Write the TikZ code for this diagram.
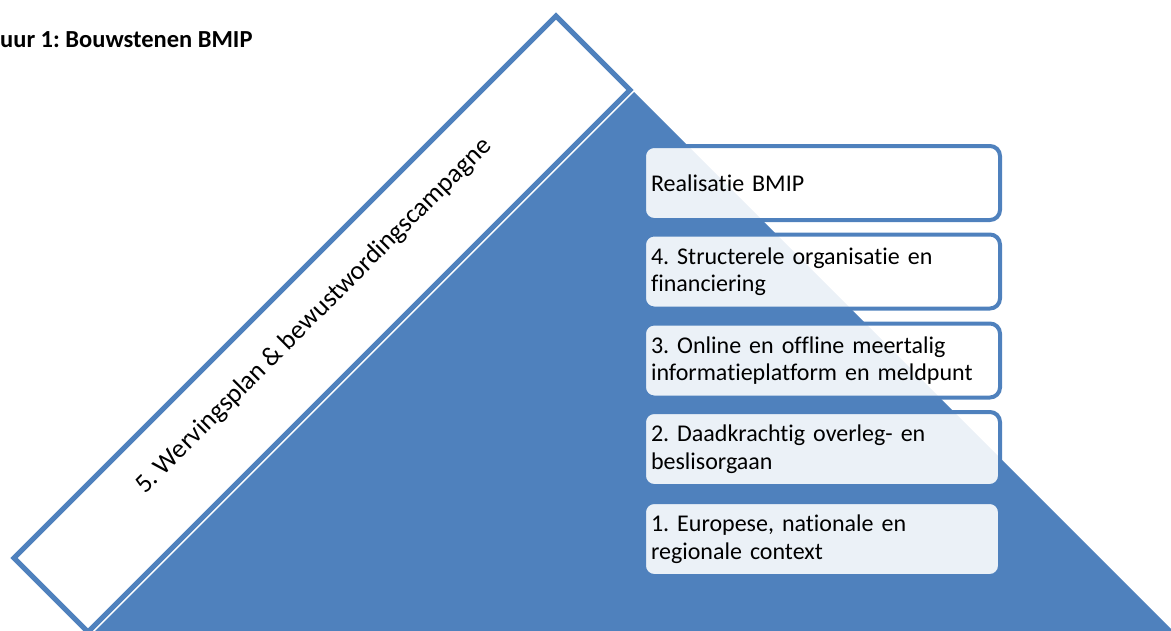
\documentclass[tikz,border=0pt]{standalone}
\usepackage{fontspec}
\setmainfont{Carlito}[Ligatures=NoCommon]
\frenchspacing
\definecolor{accent}{HTML}{4F81BD}
\newcommand\boxtextfont{\fontsize{24}{27.5}\selectfont\hyphenpenalty=10000\relax\exhyphenpenalty=10000\relax}
\tikzset{
  frame/.style={draw=accent, line width=5pt, fill=white, line join=miter},
  tri/.style={fill=accent},
  item/.style={draw=accent, line width=4pt, fill=white, fill opacity=0.89, text opacity=1,
    rounded corners=10pt, minimum width=356pt, minimum height=74pt, text width=342pt,
    align=left, inner xsep=7pt, anchor=north west, font=\boxtextfont},
  title/.style={font=\bfseries\fontsize{24.5}{28}\selectfont, inner sep=0pt, anchor=base west},
  sidetext/.style={rotate=45, font=\fontsize{26.5}{32}\selectfont, inner sep=0pt}
}
\begin{document}
\begin{tikzpicture}[x=1pt,y=-1pt]
\useasboundingbox (0,0) rectangle (1171,630);
\clip (0,0) rectangle (1171,630);
% pyramid triangle
\fill[tri] (634,92) -- (1186,644) -- (82,644) -- cycle;
% rotated frame
\draw[frame] (14,558) -- (556,16) -- (630,90) -- (88,632) -- cycle;
\node[sidetext] (side) at (314,316) {5. Wervingsplan \& bewustwordingscampagne};
% title
\node[title] (ttl) at (0,47) {uur 1: Bouwstenen BMIP};
% boxes
\node[item] (b5) at (642,144) {Realisatie BMIP};
\node[item] (b4) at (642,232.5) {4. Structerele organisatie en financiering};
\node[item] (b3) at (642,321.5) {3. Online en offline meertalig informatieplatform en meldpunt};
\node[item] (b2) at (642,410) {2. Daadkrachtig overleg- en beslisorgaan};
\node[item] (b1) at (642,500) {1. Europese, nationale en regionale context};
\end{tikzpicture}
\end{document}
